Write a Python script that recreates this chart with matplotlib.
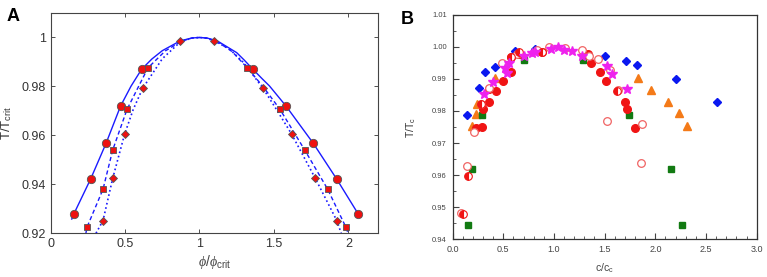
import matplotlib
matplotlib.use('Agg')
import matplotlib.pyplot as plt
from matplotlib.ticker import MultipleLocator, FuncFormatter, FormatStrFormatter

plt.rcParams['font.family'] = ['Liberation Sans', 'DejaVu Sans']
plt.rcParams['mathtext.fontset'] = 'custom'
plt.rcParams['mathtext.rm'] = 'Liberation Sans'
plt.rcParams['mathtext.it'] = 'Liberation Serif:italic'

# ---- panel A : measured points ----
circ_x = [0.157, 0.269, 0.372, 0.470, 0.611, 1.359, 1.581, 1.765, 1.921, 2.067]
circ_y = [0.928, 0.9422, 0.9567, 0.972, 0.987, 0.987, 0.972, 0.9567, 0.9422, 0.928]
sq_x = [0.244, 0.352, 0.417, 0.513, 0.654, 1.321, 1.541, 1.707, 1.861, 1.984]
sq_y = [0.9224, 0.938, 0.954, 0.9706, 0.9876, 0.9876, 0.9706, 0.954, 0.938, 0.9224]
dia_x = [0.352, 0.417, 0.497, 0.618, 0.871, 1.097, 1.427, 1.619, 1.778, 1.922]
dia_y = [0.9252, 0.9424, 0.9605, 0.9792, 0.9986, 0.9986, 0.9792, 0.9605, 0.9424, 0.9252]

# ---- panel A : fitted curves ----
solid_x = [0.142, 0.157, 0.269, 0.372, 0.470, 0.54, 0.611, 0.68, 0.75, 0.87, 0.95, 1.0, 1.05, 1.12,
           1.25, 1.30, 1.359, 1.42, 1.47, 1.581, 1.765, 1.921, 2.075]
solid_y = [0.9258, 0.928, 0.9422, 0.9567, 0.972, 0.9801, 0.987, 0.9912, 0.9946, 0.9986, 0.9998, 1.0,
           0.9998, 0.9986, 0.9938, 0.9908, 0.987, 0.9832, 0.9802, 0.972, 0.9567, 0.9422, 0.927]
dash_x = [0.237, 0.244, 0.352, 0.417, 0.513, 0.654, 0.77, 0.88, 0.95, 1.0, 1.05, 1.12,
          1.22, 1.321, 1.43, 1.541, 1.707, 1.861, 1.984, 1.998]
dash_y = [0.92, 0.9224, 0.938, 0.954, 0.9706, 0.9876, 0.9945, 0.9985, 0.9998, 1.0, 0.9997, 0.9983,
          0.9942, 0.9876, 0.9797, 0.9706, 0.954, 0.938, 0.9224, 0.92]
dot_x = [0.305, 0.352, 0.417, 0.497, 0.555, 0.618, 0.75, 0.871, 0.95, 1.0, 1.05, 1.097, 1.2,
         1.30, 1.427, 1.52, 1.619, 1.778, 1.922, 1.952]
dot_y = [0.92, 0.9252, 0.9424, 0.9605, 0.9706, 0.9792, 0.9913, 0.9982, 0.9998, 1.0, 0.9997, 0.9986,
         0.9954, 0.9895, 0.9792, 0.9703, 0.9605, 0.9424, 0.9252, 0.92]

# ---- panel B ----
blue_x = [0.145, 0.263, 0.316, 0.414, 0.615, 0.809, 1.503, 1.714, 1.816, 2.204, 2.612]
blue_y = [0.9786, 0.9872, 0.9922, 0.9936, 0.9988, 0.9993, 0.9972, 0.9957, 0.9943, 0.9901, 0.9828]
orange_x = [0.191, 0.230, 0.243, 0.418, 1.832, 1.954, 2.128, 2.237, 2.309]
orange_y = [0.9754, 0.9791, 0.9822, 0.9902, 0.9902, 0.9866, 0.9829, 0.9793, 0.9754]
green_x = [0.155, 0.188, 0.289, 0.704, 1.289, 1.740, 2.155, 2.263]
green_y = [0.9445, 0.9618, 0.9789, 0.9959, 0.9959, 0.9789, 0.9618, 0.9444]
red_x = [0.230, 0.293, 0.303, 0.355, 0.359, 0.428, 0.493, 0.572, 0.572, 0.658, 0.878,
         1.339, 1.368, 1.457, 1.516, 1.704, 1.724, 1.799]
red_y = [0.9748, 0.9749, 0.9805, 0.9868, 0.9829, 0.9863, 0.9894, 0.9922, 0.9968, 0.9978, 0.9983,
         0.9977, 0.9949, 0.9922, 0.9894, 0.9829, 0.9805, 0.9748]
open_x = [0.079, 0.138, 0.211, 0.276, 0.355, 0.484, 0.638, 0.829, 0.951, 1.109, 1.280,
          1.349, 1.438, 1.553, 1.628, 1.520, 1.865, 1.855]
open_y = [0.9482, 0.9628, 0.9733, 0.9823, 0.9871, 0.9949, 0.9977, 0.9991, 1.0001, 0.9996, 0.9989,
          0.9973, 0.9962, 0.9928, 0.9866, 0.9769, 0.9759, 0.9638]
half_x = [0.099, 0.155, 0.276, 0.572, 0.66, 0.878, 1.622]
half_y = [0.9477, 0.9597, 0.9823, 0.9968, 0.9985, 0.9983, 0.9864]
star_x = [0.309, 0.401, 0.516, 0.533, 0.559, 0.704, 0.780, 0.812, 0.970, 1.043, 1.099,
          1.174, 1.276, 1.520, 1.569, 1.724]
star_y = [0.9853, 0.9890, 0.9935, 0.9918, 0.9949, 0.9972, 0.9980, 0.9985, 0.9995, 1.0000, 0.9989,
          0.9988, 0.9972, 0.9939, 0.9916, 0.9869]

BLUE_LINE = '#1a1aff'
RED = '#ee1111'

fig = plt.figure(figsize=(7.67, 2.77), dpi=100)

# ================= panel A =================
axA = fig.add_axes([0.066, 0.158, 0.427, 0.795])
axA.plot(solid_x, solid_y, '-', color=BLUE_LINE, lw=1.0)
axA.plot(dash_x, dash_y, '--', color=BLUE_LINE, lw=1.0, dashes=(3, 2))
axA.plot(dot_x, dot_y, ':', color=BLUE_LINE, lw=1.2)
mk = dict(linestyle='none', markerfacecolor=RED, markeredgecolor='#555555', markeredgewidth=0.6)
axA.plot(circ_x, circ_y, marker='o', markersize=6, **mk)
axA.plot(sq_x, sq_y, marker='s', markersize=4.8, **mk)
axA.plot(dia_x, dia_y, marker='D', markersize=4.3, **mk)
axA.set_xlim(0, 2.2)
axA.set_ylim(0.92, 1.01)
axA.set_xticks([0, 0.5, 1, 1.5, 2])
axA.set_yticks([0.92, 0.94, 0.96, 0.98, 1.0])
axA.xaxis.set_major_formatter(FuncFormatter(lambda v, p: '%g' % v))
axA.yaxis.set_major_formatter(FuncFormatter(lambda v, p: '%g' % round(v, 2)))
axA.tick_params(direction='in', top=True, right=True, labelsize=9, colors='#333333',
                length=3, width=0.6)
for s in axA.spines.values():
    s.set_color('#444444')
    s.set_linewidth(0.8)
axA.set_ylabel(r'T/T$_{\rm crit}$', fontsize=9.5, color='#333333', labelpad=5)
axA.set_xlabel(r'$\phi/\phi_{\rm crit}$', fontsize=10, color='#444444', labelpad=2)
fig.text(0.008, 0.925, 'A', fontsize=13, fontweight='bold')

# ================= panel B =================
axB = fig.add_axes([0.590, 0.137, 0.3966, 0.809])
ms = 5
axB.plot(blue_x, blue_y, 'D', color='#0a18f0', markersize=ms - 0.5, linestyle='none')
axB.plot(orange_x, orange_y, '^', color='#f47a18', markersize=ms + 0.5, linestyle='none')
axB.plot(green_x, green_y, 's', color='#127a12', markersize=ms - 0.5, linestyle='none')
axB.plot(red_x, red_y, 'o', color='#f01414', markersize=ms + 0.5, linestyle='none')
axB.plot(open_x, open_y, 'o', markerfacecolor='white', markeredgecolor='#f06464',
         markeredgewidth=0.9, markersize=ms + 0.5, linestyle='none')
axB.plot(half_x, half_y, 'o', markerfacecolor='#f01414', markerfacecoloralt='white',
         markeredgecolor='#f01414', fillstyle='left', markeredgewidth=0.8,
         markersize=ms + 0.5, linestyle='none')
axB.plot(star_x, star_y, '*', color='#ee22ee', markersize=ms + 2, linestyle='none')
axB.set_xlim(0, 3.0)
axB.set_ylim(0.94, 1.01)
axB.xaxis.set_major_locator(MultipleLocator(0.5))
axB.xaxis.set_minor_locator(MultipleLocator(0.1))
axB.yaxis.set_major_locator(MultipleLocator(0.01))
axB.yaxis.set_minor_locator(MultipleLocator(0.005))
axB.xaxis.set_major_formatter(FormatStrFormatter('%.1f'))
axB.yaxis.set_major_formatter(FormatStrFormatter('%.2f'))
axB.tick_params(which='both', direction='in', top=False, right=False, colors='#444444')
axB.tick_params(which='major', length=4, width=0.8)
axB.tick_params(which='minor', length=2, width=0.6)
axB.tick_params(axis='x', labelsize=6.5, pad=4)
axB.tick_params(axis='y', labelsize=5.5, pad=4)
for s in axB.spines.values():
    s.set_color('#333333')
    s.set_linewidth(0.9)
axB.set_ylabel(r'T/T$_{\rm c}$', fontsize=7.5, color='#333333', labelpad=10)
axB.set_xlabel(r'c/c$_{\rm c}$', fontsize=7.5, color='#444444', labelpad=6)
fig.text(0.522, 0.915, 'B', fontsize=13, fontweight='bold')

fig.savefig('out.png', dpi=100)
